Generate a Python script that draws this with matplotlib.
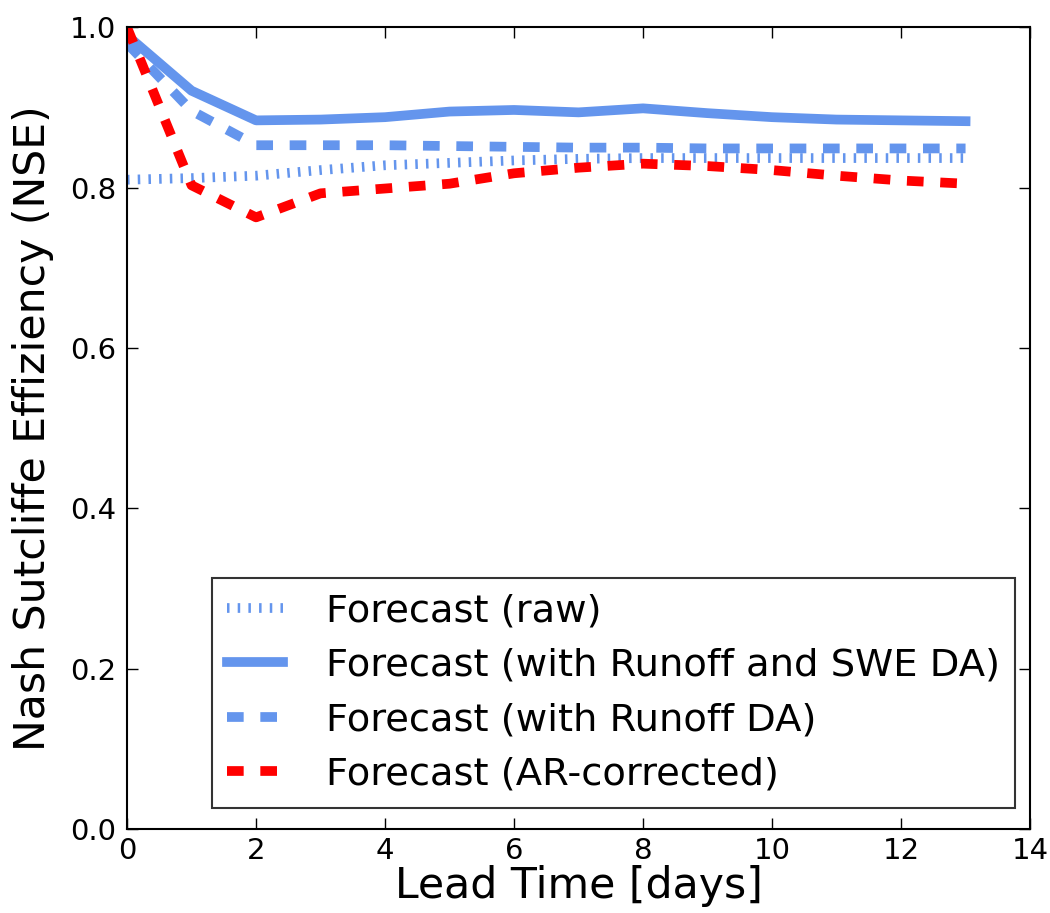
import matplotlib
matplotlib.use("Agg")
import matplotlib.pyplot as plt

lead_days = [0, 1, 2, 3, 4, 5, 6, 7, 8, 9, 10, 11, 12, 13]

nse_raw = [0.810, 0.812, 0.815, 0.822, 0.828, 0.831, 0.834, 0.836, 0.837,
           0.837, 0.837, 0.837, 0.837, 0.837]
nse_swe_da = [0.990, 0.921, 0.884, 0.885, 0.888, 0.895, 0.897, 0.894, 0.899,
              0.893, 0.888, 0.885, 0.884, 0.883]
nse_runoff_da = [0.980, 0.896, 0.853, 0.853, 0.853, 0.852, 0.851, 0.850,
                 0.850, 0.849, 0.849, 0.849, 0.849, 0.849]
nse_ar = [1.000, 0.803, 0.763, 0.793, 0.799, 0.805, 0.818, 0.825, 0.830,
          0.827, 0.822, 0.815, 0.809, 0.805]

labels = ["Forecast (raw)",
          "Forecast (with Runoff and SWE DA)",
          "Forecast (with Runoff DA)",
          "Forecast (AR-corrected)"]

plt.rcParams["lines.scale_dashes"] = False
plt.rcParams["xtick.direction"] = "in"
plt.rcParams["ytick.direction"] = "in"
plt.rcParams["xtick.top"] = True
plt.rcParams["ytick.right"] = True

fig = plt.figure(figsize=(10.5, 9.13), dpi=100)
ax = fig.add_axes([0.121, 0.092, 0.860, 0.878])

blue = "#6495ED"
ax.plot(lead_days, nse_raw, color=blue, lw=7, dashes=(1.8, 5.9),
        label=labels[0])
ax.plot(lead_days, nse_swe_da, color=blue, lw=7, solid_capstyle="projecting",
        label=labels[1])
ax.plot(lead_days, nse_runoff_da, color=blue, lw=7, dashes=(12, 12),
        label=labels[2])
ax.plot(lead_days, nse_ar, color="red", lw=7, dashes=(12, 12),
        label=labels[3])

ax.set_xlim(0, 14)
ax.set_ylim(0, 1.0)
ax.set_xticks(range(0, 15, 2))
ax.set_yticks([0.0, 0.2, 0.4, 0.6, 0.8, 1.0])
ax.tick_params(labelsize=21, length=8, width=1)
ax.tick_params(axis="y", pad=8)
ax.tick_params(axis="x", pad=6)
for s in ax.spines.values():
    s.set_linewidth(1.5)

ax.set_xlabel("Lead Time [days]", fontsize=30.7, labelpad=0)
ax.set_ylabel("Nash Sutcliffe Effiziency (NSE)", fontsize=30.7, labelpad=11)

leg = ax.legend(loc="lower right", bbox_to_anchor=(0.9834, 0.026),
                borderaxespad=0, fontsize=27.7, fancybox=False,
                handlelength=1.45, handletextpad=1.1, labelspacing=0.48,
                borderpad=0.4)
leg.get_frame().set_edgecolor("black")
leg.get_frame().set_linewidth(1.5)

fig.savefig("out.png", dpi=100)
